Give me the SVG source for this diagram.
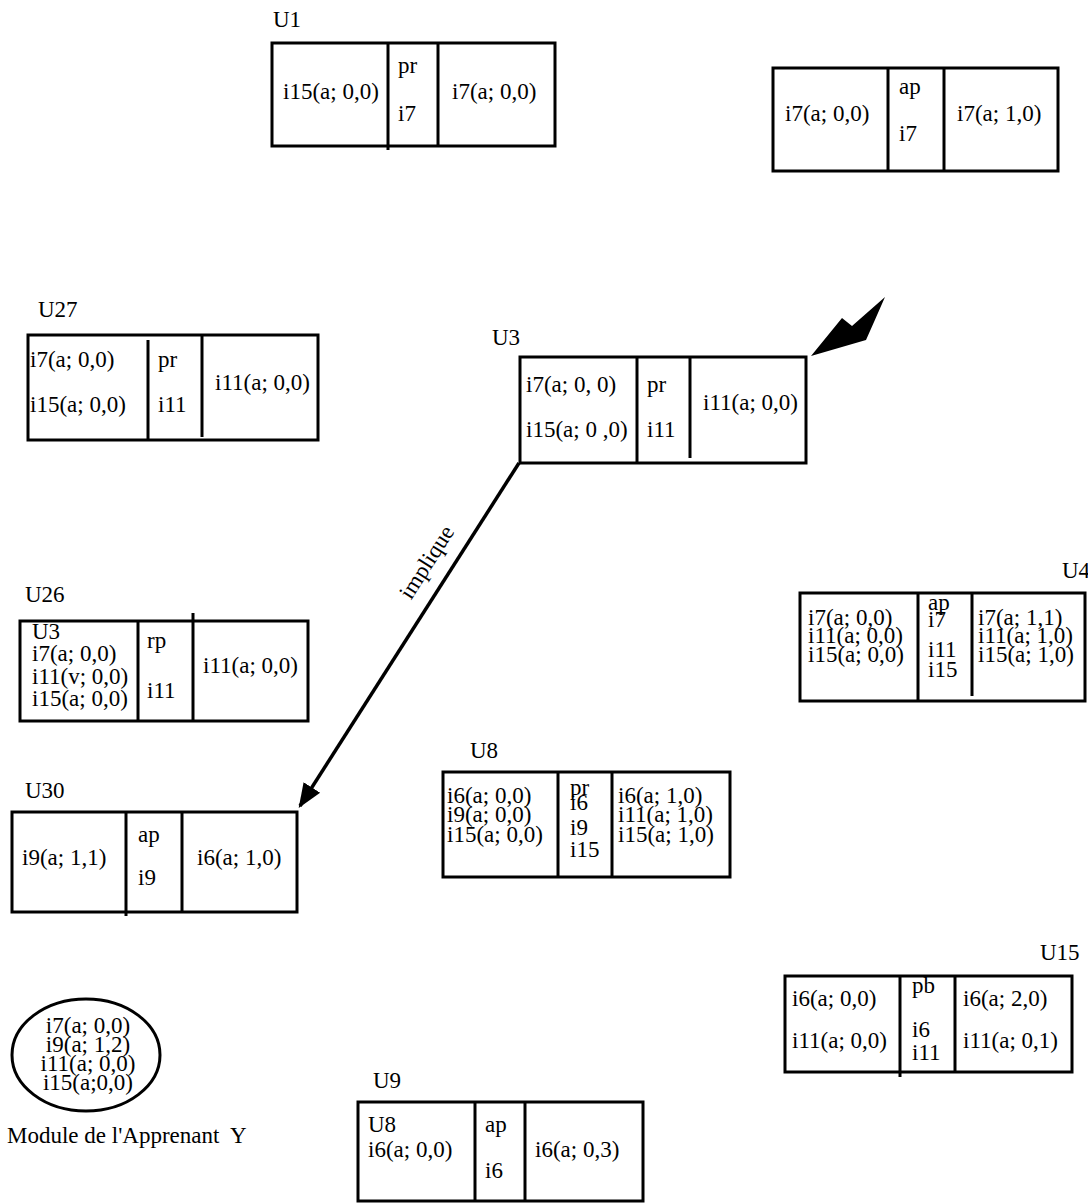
<svg xmlns="http://www.w3.org/2000/svg" width="1088" height="1204" viewBox="0 0 1088 1204">
<style>
text{font-family:"Liberation Serif","Times New Roman",serif;font-size:23px;fill:#000;white-space:pre}
.box{fill:#fff;stroke:#000;stroke-width:3}
.div{stroke:#000;stroke-width:3}
.mid{text-anchor:middle}
</style>
<defs>
<marker id="ah" viewBox="0 0 10 10" refX="9" refY="5" markerWidth="7" markerHeight="7" orient="auto" markerUnits="strokeWidth">
<path d="M0,1 L10,5 L0,9 z" fill="#000"/>
</marker>
</defs>
<rect width="1088" height="1204" fill="#fff"/>

<g id="connectors">
<line x1="519" y1="463" x2="300" y2="806" stroke="#000" stroke-width="3.5" marker-end="url(#ah)"/>
<text x="428" y="569" class="mid" transform="rotate(-57.5 428 563)">implique</text>
<polygon points="811,356 842,318 852,326 885,297 874,322 866,340" fill="#000"/>
</g>

<g id="U1">
<text x="273" y="27">U1</text>
<rect class="box" x="272" y="43" width="283" height="103"/>
<line class="div" x1="388" y1="43" x2="388" y2="150"/>
<line class="div" x1="438" y1="43" x2="438" y2="146"/>
<text x="283" y="99">i15(a; 0,0)</text>
<text x="398" y="73">pr</text>
<text x="398" y="121">i7</text>
<text x="452" y="99">i7(a; 0,0)</text>
</g>

<g id="U2">
<text x="789" y="85">U2</text>
<rect class="box" x="773" y="68" width="285" height="103"/>
<line class="div" x1="888" y1="68" x2="888" y2="171"/>
<line class="div" x1="944" y1="68" x2="944" y2="171"/>
<text x="785" y="121">i7(a; 0,0)</text>
<text x="899" y="94">ap</text>
<text x="899" y="141">i7</text>
<text x="957" y="121">i7(a; 1,0)</text>
</g>

<g id="U27">
<text x="38" y="317">U27</text>
<rect class="box" x="28" y="335" width="290" height="105"/>
<line class="div" x1="148" y1="340" x2="148" y2="440"/>
<line class="div" x1="202" y1="335" x2="202" y2="437"/>
<text x="30" y="367">i7(a; 0,0)</text>
<text x="30" y="412">i15(a; 0,0)</text>
<text x="158" y="367">pr</text>
<text x="158" y="412">i11</text>
<text x="215" y="390">i11(a; 0,0)</text>
</g>

<g id="U3">
<text x="492" y="345">U3</text>
<rect class="box" x="520" y="357" width="286" height="106"/>
<line class="div" x1="637" y1="357" x2="637" y2="463"/>
<line class="div" x1="690" y1="357" x2="690" y2="458"/>
<text x="526" y="392">i7(a; 0, 0)</text>
<text x="526" y="437">i15(a; 0 ,0)</text>
<text x="647" y="392">pr</text>
<text x="647" y="437">i11</text>
<text x="703" y="410">i11(a; 0,0)</text>
</g>

<g id="U26">
<text x="25" y="602">U26</text>
<rect class="box" x="20" y="621" width="288" height="100"/>
<line class="div" x1="138" y1="621" x2="138" y2="721"/>
<line class="div" x1="193" y1="613" x2="193" y2="721"/>
<text x="32" y="639">U3</text>
<text x="32" y="661">i7(a; 0,0)</text>
<text x="32" y="684">i11(v; 0,0)</text>
<text x="32" y="706">i15(a; 0,0)</text>
<text x="147" y="648">rp</text>
<text x="147" y="698">i11</text>
<text x="203" y="673">i11(a; 0,0)</text>
</g>

<g id="U4">
<text x="1062" y="578">U4</text>
<rect class="box" x="800" y="593" width="285" height="108"/>
<line class="div" x1="918" y1="593" x2="918" y2="701"/>
<line class="div" x1="972" y1="593" x2="972" y2="696"/>
<text x="808" y="625">i7(a; 0,0)</text>
<text x="808" y="643">i11(a; 0,0)</text>
<text x="808" y="662">i15(a; 0,0)</text>
<text x="928" y="610">ap</text>
<text x="928" y="627">i7</text>
<text x="928" y="657">i11</text>
<text x="928" y="677">i15</text>
<text x="978" y="625">i7(a; 1,1)</text>
<text x="978" y="643">i11(a; 1,0)</text>
<text x="978" y="662">i15(a; 1,0)</text>
</g>

<g id="U30">
<text x="25" y="798">U30</text>
<rect class="box" x="12" y="812" width="285" height="100"/>
<line class="div" x1="126" y1="812" x2="126" y2="916"/>
<line class="div" x1="182" y1="812" x2="182" y2="912"/>
<text x="22" y="865">i9(a; 1,1)</text>
<text x="138" y="842">ap</text>
<text x="138" y="885">i9</text>
<text x="197" y="865">i6(a; 1,0)</text>
</g>

<g id="U8">
<text x="470" y="758">U8</text>
<rect class="box" x="443" y="772" width="287" height="105"/>
<line class="div" x1="558" y1="772" x2="558" y2="877"/>
<line class="div" x1="612" y1="772" x2="612" y2="877"/>
<text x="447" y="803">i6(a; 0,0)</text>
<text x="447" y="822">i9(a; 0,0)</text>
<text x="447" y="842">i15(a; 0,0)</text>
<text x="570" y="795">pr</text>
<text x="570" y="810">i6</text>
<text x="570" y="835">i9</text>
<text x="570" y="857">i15</text>
<text x="618" y="803">i6(a; 1,0)</text>
<text x="618" y="822">i11(a; 1,0)</text>
<text x="618" y="842">i15(a; 1,0)</text>
</g>

<g id="U15">
<text x="1040" y="960">U15</text>
<rect class="box" x="785" y="976" width="287" height="96"/>
<line class="div" x1="900" y1="976" x2="900" y2="1077"/>
<line class="div" x1="955" y1="976" x2="955" y2="1072"/>
<text x="792" y="1006">i6(a; 0,0)</text>
<text x="792" y="1048">i11(a; 0,0)</text>
<text x="912" y="993">pb</text>
<text x="912" y="1037">i6</text>
<text x="912" y="1060">i11</text>
<text x="963" y="1006">i6(a; 2,0)</text>
<text x="963" y="1048">i11(a; 0,1)</text>
</g>

<g id="moduleY">
<ellipse cx="86" cy="1055" rx="74" ry="56" fill="#fff" stroke="#000" stroke-width="3"/>
<text x="88" y="1033" class="mid">i7(a; 0,0)</text>
<text x="88" y="1052" class="mid">i9(a; 1,2)</text>
<text x="88" y="1071" class="mid">i11(a; 0,0)</text>
<text x="88" y="1090" class="mid">i15(a;0,0)</text>
<text x="7" y="1143">Module de l'Apprenant  Y</text>
</g>

<g id="U9">
<text x="373" y="1088">U9</text>
<rect class="box" x="358" y="1102" width="285" height="99"/>
<line class="div" x1="475" y1="1102" x2="475" y2="1201"/>
<line class="div" x1="525" y1="1102" x2="525" y2="1201"/>
<text x="368" y="1132">U8</text>
<text x="368" y="1157">i6(a; 0,0)</text>
<text x="485" y="1132">ap</text>
<text x="485" y="1178">i6</text>
<text x="535" y="1157">i6(a; 0,3)</text>
</g>
</svg>
